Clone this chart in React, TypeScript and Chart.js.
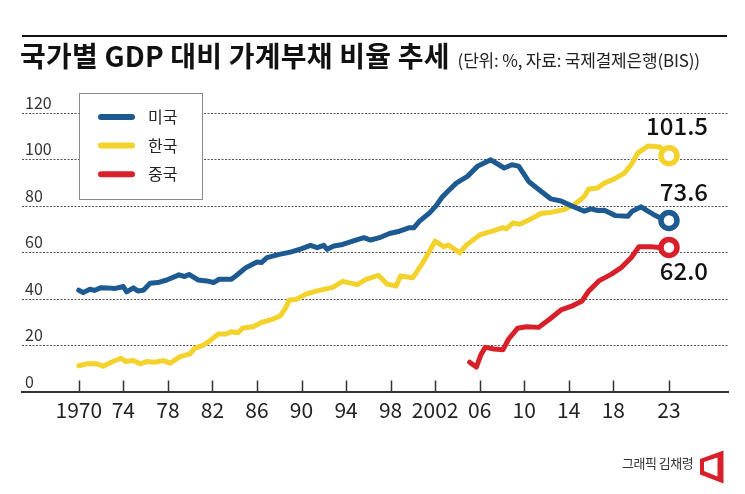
import React, { useEffect, useRef } from "react";
import { Chart, registerables } from "chart.js";

Chart.register(...registerables);

// ---------- data ----------
const seriesNames = ["미국", "한국", "중국"];

const usYears = [
  1970.0, 1970.4, 1971.0, 1971.4, 1972.0, 1972.6, 1973.2, 1974.0, 1974.3, 1974.9,
  1975.3, 1975.8, 1976.4, 1977.1, 1977.9, 1979.0, 1979.5, 1979.9, 1980.7, 1981.5,
  1982.1, 1982.6, 1983.7, 1984.1, 1985.0, 1986.0, 1986.4, 1986.9, 1988.0, 1989.0,
  1989.9, 1990.8, 1991.4, 1992.0, 1992.3, 1992.9, 1993.7, 1994.6, 1995.6, 1996.2,
  1997.0, 1997.9, 1998.8, 1999.7, 2000.1, 2000.6, 2001.5, 2002.1, 2002.6, 2003.1,
  2003.9, 2004.9, 2005.8, 2007.0, 2008.2, 2008.9, 2009.5, 2010.4, 2011.5, 2012.4,
  2013.3, 2014.2, 2015.4, 2016.0, 2016.6, 2017.2, 2018.2, 2019.3, 2019.7, 2020.5,
  2021.1, 2021.6, 2022.5, 2023.0,
];
const usValues = [
  43.6, 42.6, 44.0, 43.5, 44.7, 44.6, 44.3, 45.2, 42.9, 44.6,
  43.3, 43.6, 46.6, 46.9, 48.0, 50.2, 49.5, 50.4, 48.0, 47.6,
  46.9, 48.3, 48.3, 49.7, 53.3, 55.7, 55.5, 57.6, 59.0, 60.0,
  61.3, 62.9, 61.9, 62.9, 61.2, 62.6, 63.3, 64.7, 66.2, 65.2,
  66.2, 68.0, 69.0, 70.5, 70.5, 73.3, 76.9, 80.0, 83.5, 86.0,
  89.7, 92.6, 96.9, 99.7, 96.2, 97.6, 97.0, 90.4, 86.2, 82.9,
  82.0, 80.0, 77.6, 78.6, 77.9, 78.0, 75.7, 75.4, 77.6, 79.5,
  77.6, 76.2, 74.0, 73.6,
];

const krYears = [
  1970.0, 1970.7, 1971.6, 1972.2, 1972.9, 1973.8, 1974.2, 1974.9, 1975.5, 1976.1,
  1976.8, 1977.6, 1978.2, 1979.1, 1980.0, 1980.4, 1981.2, 1981.8, 1982.5, 1983.2,
  1983.7, 1984.3, 1984.7, 1985.7, 1986.4, 1987.3, 1988.1, 1988.6, 1988.9, 1989.5,
  1990.4, 1991.3, 1992.8, 1993.7, 1995.0, 1995.8, 1996.9, 1997.7, 1998.5, 1998.9,
  2000.0, 2000.9, 2002.0, 2002.8, 2003.2, 2004.2, 2004.8, 2006.0, 2006.9, 2008.1,
  2008.4, 2009.0, 2009.6, 2010.5, 2011.5, 2012.4, 2013.6, 2014.5, 2015.4, 2015.8,
  2016.6, 2017.2, 2018.1, 2019.0, 2019.6, 2020.2, 2021.1, 2022.2, 2023.0,
];
const krValues = [
  11.1, 11.9, 11.9, 10.9, 12.6, 14.3, 12.9, 13.3, 11.9, 12.9,
  12.6, 13.3, 12.2, 15.0, 16.2, 18.6, 20.0, 21.9, 24.7, 24.7,
  25.7, 25.3, 27.2, 28.0, 29.7, 30.9, 32.6, 36.2, 39.4, 39.6,
  41.9, 43.2, 44.8, 47.4, 46.0, 48.3, 50.0, 46.2, 45.4, 49.7,
  49.0, 55.5, 64.7, 62.3, 63.0, 59.7, 63.0, 67.4, 68.7, 70.5,
  70.0, 72.6, 72.0, 74.0, 76.6, 77.1, 78.3, 80.4, 84.0, 87.2,
  87.6, 89.7, 91.5, 94.0, 97.6, 102.6, 105.7, 105.2, 101.5,
];

const cnYears = [
  2005.1, 2005.7, 2006.1, 2006.5, 2007.3, 2008.1, 2008.6, 2009.4, 2010.2, 2011.3,
  2012.3, 2013.3, 2014.2, 2015.2, 2015.8, 2016.7, 2017.8, 2018.7, 2019.6, 2020.3,
  2021.4, 2022.4, 2023.0,
];
const cnValues = [
  12.6, 10.5, 15.7, 19.0, 18.3, 18.0, 22.6, 27.2, 27.9, 27.6,
  31.2, 35.1, 36.6, 39.0, 43.3, 47.6, 50.4, 53.3, 57.6, 62.3,
  62.3, 61.9, 62.0,
];

const xTickYears = [1970, 1974, 1978, 1982, 1986, 1990, 1994, 1998, 2002, 2006, 2010, 2014, 2018, 2023];
const xTickLabels = ["1970", "74", "78", "82", "86", "90", "94", "98", "2002", "06", "10", "14", "18", "23"];
const yTickValues = [0, 20, 40, 60, 80, 100, 120];

const titleText = "국가별 GDP 대비 가계부채 비율 추세";
const subtitleText = "(단위: %, 자료: 국제결제은행(BIS))";
const creditText = "그래픽 김채령";

// ---------- styles ----------
const FONT = "'Noto Sans CJK KR', 'Noto Sans', sans-serif";
const COLORS = ["#1d5a92", "#f3d22b", "#d7202a"];
const END_LABEL_DY = [-29, -30, 23];
const END_LABEL_DX = 39;

const toPoints = (xs: number[], ys: number[]) => xs.map((x, i) => ({ x, y: ys[i] }));

const decorPlugin = {
  id: "decor",
  beforeDatasetsDraw(chart: any) {
    // dotted horizontal grid lines at the y ticks
    const ctx = chart.ctx;
    const ys = chart.scales.y;
    const left = chart.chartArea.left;
    const right = chart.chartArea.right;
    ctx.save();
    ctx.strokeStyle = "#555555";
    ctx.lineWidth = 1;
    ctx.setLineDash([2, 1.5]);
    yTickValues.forEach((v) => {
      if (v === 0) return;
      const py = Math.round(ys.getPixelForValue(v)) + 0.5;
      ctx.beginPath();
      ctx.moveTo(left, py);
      ctx.lineTo(right, py);
      ctx.stroke();
    });
    ctx.restore();
  },
  afterDatasetsDraw(chart: any) {
    const ctx = chart.ctx;
    ctx.save();
    // legend box
    ctx.fillStyle = "#ffffff";
    ctx.fillRect(79, 93, 123, 106);
    ctx.strokeStyle = "#8a8a8a";
    ctx.lineWidth = 1;
    ctx.strokeRect(79.5, 93.5, 123, 106);
    chart.data.datasets.forEach((ds: any, i: number) => {
      const y = 117 + i * 28.6;
      ctx.strokeStyle = ds.borderColor;
      ctx.lineWidth = 6;
      ctx.lineCap = "round";
      ctx.beginPath();
      ctx.moveTo(101, y);
      ctx.lineTo(132, y);
      ctx.stroke();
      ctx.fillStyle = "#222";
      ctx.font = `16px ${FONT}`;
      ctx.textAlign = "left";
      ctx.textBaseline = "middle";
      ctx.fillText(ds.label, 148, y);
    });
    // end value labels
    chart.data.datasets.forEach((ds: any, i: number) => {
      const meta = chart.getDatasetMeta(i);
      const el = meta.data[meta.data.length - 1];
      const v = ds.data[ds.data.length - 1].y;
      ctx.fillStyle = "#111";
      ctx.font = `500 24px ${FONT}`;
      ctx.textAlign = "right";
      ctx.textBaseline = "middle";
      ctx.fillText(v.toFixed(1), el.x + END_LABEL_DX, el.y + END_LABEL_DY[i]);
    });
    // small tick marks rising from the x axis
    const xs = chart.scales.x;
    const bottom = chart.chartArea.bottom;
    ctx.setLineDash([]);
    ctx.strokeStyle = "#333333";
    ctx.lineWidth = 1.5;
    ctx.lineCap = "butt";
    xTickYears.forEach((v) => {
      const px = Math.round(xs.getPixelForValue(v)) + 0.5;
      ctx.beginPath();
      ctx.moveTo(px, bottom - 11);
      ctx.lineTo(px, bottom);
      ctx.stroke();
    });
    ctx.restore();
  },
};

export default function App() {
  const canvasRef = useRef<HTMLCanvasElement | null>(null);

  useEffect(() => {
    if (!canvasRef.current) return;
    Chart.defaults.font.family = FONT;
    const seriesData = [toPoints(usYears, usValues), toPoints(krYears, krValues), toPoints(cnYears, cnValues)];
    const chart = new Chart(canvasRef.current, {
      type: "line",
      data: {
        datasets: seriesData.map((d, i) => ({
          label: seriesNames[i],
          data: d,
          borderColor: COLORS[i],
          backgroundColor: COLORS[i],
          borderWidth: 5,
          borderCapStyle: "round",
          borderJoinStyle: "round",
          tension: 0,
          pointRadius: d.map((_, j) => (j === d.length - 1 ? 8 : 0)),
          pointHoverRadius: 0,
          pointBorderWidth: 5.5,
          pointBorderColor: COLORS[i],
          pointBackgroundColor: "#ffffff",
        })),
      },
      options: {
        animation: false,
        responsive: false,
        events: [],
        layout: { padding: { left: 22, right: 17, top: 112.7, bottom: 65.3 } },
        plugins: { legend: { display: false }, tooltip: { enabled: false }, title: { display: false } },
        scales: {
          x: {
            type: "linear",
            min: 1964.9,
            max: 2028.3,
            afterBuildTicks: (scale: any) => {
              scale.ticks = xTickYears.map((v) => ({ value: v }));
            },
            ticks: {
              autoSkip: false,
              maxRotation: 0,
              padding: 6,
              color: "#222",
              font: { size: 21 },
              callback: (v: any) => {
                const idx = xTickYears.indexOf(Number(v));
                return idx >= 0 ? xTickLabels[idx] : "";
              },
            },
            grid: { display: true, drawOnChartArea: false, drawTicks: false },
            border: { display: true, color: "#333", width: 2 },
          },
          y: {
            type: "linear",
            min: 0,
            max: 120,
            afterBuildTicks: (scale: any) => {
              scale.ticks = yTickValues.map((v) => ({ value: v }));
            },
            afterFit: (scale: any) => {
              scale.width = 0;
            },
            ticks: {
              mirror: true,
              padding: 3,
              labelOffset: -10,
              color: "#333",
              font: { size: 16 },
              callback: (v: any) => String(v),
            },
            grid: { display: false, drawTicks: false },
            border: { display: false },
          },
        },
      } as any,
      plugins: [decorPlugin],
    });
    return () => chart.destroy();
  }, []);

  return (
    <div
      style={{
        position: "absolute",
        left: 0,
        top: 0,
        width: 745,
        height: 494,
        background: "#ffffff",
        overflow: "hidden",
        fontFamily: FONT,
      }}
    >
      <canvas ref={canvasRef} width={745} height={494} style={{ position: "absolute", left: 0, top: 0 }} />
      <div style={{ position: "absolute", left: 22, top: 35, width: 705, height: 2, background: "#111" }} />
      <div
        style={{
          position: "absolute",
          left: 20,
          top: 41,
          display: "flex",
          alignItems: "baseline",
          whiteSpace: "nowrap",
          color: "#111",
        }}
      >
        <span style={{ fontSize: 28, fontWeight: 700, lineHeight: 1, letterSpacing: 0.2 }}>{titleText}</span>
        <span style={{ fontSize: 17, fontWeight: 400, lineHeight: 1, marginLeft: 8, color: "#222", letterSpacing: -0.2 }}>
          {subtitleText}
        </span>
      </div>
      <div
        style={{
          position: "absolute",
          left: 622,
          top: 456,
          fontSize: 13,
          lineHeight: 1,
          color: "#333",
          letterSpacing: -0.5,
          whiteSpace: "nowrap",
        }}
      >
        {creditText}
      </div>
      <svg width={745} height={494} style={{ position: "absolute", left: 0, top: 0, pointerEvents: "none" }}>
        <path
          d="M700 459 L723.5 450.5 L723.5 483.5 L700 474.5 Z M704 462 L717.5 457.5 L717.5 476.5 L704 471 Z"
          fill="#d8202a"
          fillRule="evenodd"
        />
      </svg>
    </div>
  );
}
